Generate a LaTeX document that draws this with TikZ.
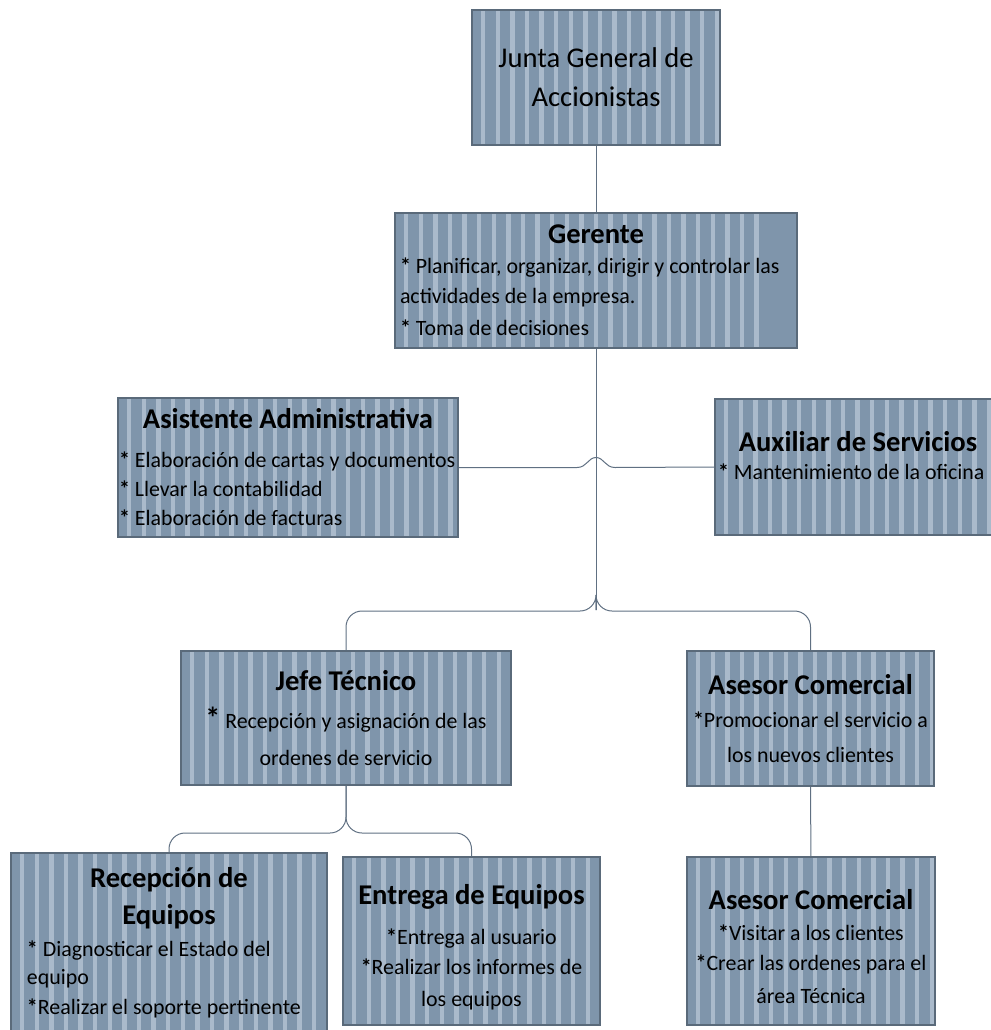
\documentclass[tikz,border=0pt]{standalone}
\usepackage{fontspec}
\setmainfont{Carlito}
\usepackage{tikz}
\usetikzlibrary{calc}

\definecolor{fondo}{RGB}{127,149,171}
\definecolor{franja}{RGB}{170,186,203}
\definecolor{borde}{RGB}{90,106,122}
\definecolor{linea}{RGB}{96,112,130}

\newcommand{\titulo}[1]{{\fontsize{28.6}{34}\selectfont\bfseries #1}}
\newcommand{\vineta}{\textbf{*}}

\tikzset{
  cargo/.style={draw=borde, line width=2.2pt, fill=fondo, inner sep=3pt, align=center,
    font=\fontsize{21.9}{30}\selectfont,
    path picture={\foreach \s in {0,...,24}
      \fill[franja] ($(path picture bounding box.north west)+(9+\s*14.6,0)$) rectangle +(4.4,300);}},
  conector/.style={draw=linea, line width=1pt},
}

\begin{document}
\begin{tikzpicture}[x=1pt,y=-1pt]
\useasboundingbox (0,0) rectangle (990,1030);

\node [cargo, minimum width=248, minimum height=135, font=\fontsize{28.6}{39}\selectfont] (junta) at (596,77.5) {Junta General de\\Accionistas};

\node [cargo, minimum width=402, minimum height=135, align=left] (gerente) at (596,280.5)
  {\makebox[392pt]{\titulo{Gerente}}\\
   \vineta{} Planificar, organizar, dirigir y controlar las\\
   actividades de la empresa.\\[2pt]
   \vineta{} Toma de decisiones};

\node [cargo, minimum width=340, minimum height=139, inner xsep=1pt, align=left] (asistente) at (288,467.5)
  {\makebox[338pt]{\titulo{Asistente Administrativa}}\\[9pt]
   \vineta{} Elaboración de cartas y documentos\\[-1pt]
   \vineta{} Llevar la contabilidad\\[-1pt]
   \vineta{} Elaboración de facturas};

\node [cargo, minimum width=284, minimum height=136, align=left] (auxiliar) at (858,467)
  {\makebox[280pt]{\titulo{Auxiliar de Servicios}}\\[-2pt]
   \vineta{} Mantenimiento de la oficina\rule[-24pt]{0pt}{0pt}};

\node [cargo, minimum width=330, minimum height=134] (jefe) at (346,718)
  {\titulo{Jefe Técnico}\\[8pt]
   {\fontsize{30}{30}\selectfont\bfseries *} Recepción y asignación de las\\[7pt]
   ordenes de servicio};

\node [cargo, minimum width=247, minimum height=135] (asesorA) at (810.5,718.5)
  {\titulo{Asesor Comercial}\\[3pt]
   \vineta{}Promocionar el servicio a\\[5pt]
   los nuevos clientes};

\node [cargo, minimum width=316, minimum height=180, align=left] (recepcion) at (169,943)
  {\makebox[284pt]{\titulo{Recepción de}}\\[7pt]
   \makebox[284pt]{\titulo{Equipos}}\\[2pt]
   \vineta{} Diagnosticar el Estado del\\[-2pt]
   equipo\\
   \vineta{}Realizar el soporte pertinente};

\node [cargo, minimum width=257, minimum height=168] (entrega) at (471.5,941)
  {\rule{0pt}{33pt}\titulo{Entrega de Equipos}\\[10pt]
   \vineta{}Entrega al usuario\\
   \vineta{}Realizar los informes de\\[2pt]
   los equipos};

\node [cargo, minimum width=248, minimum height=168] (asesorB) at (811,941)
  {\rule{0pt}{32pt}\titulo{Asesor Comercial}\\[1pt]
   \vineta{}Visitar a los clientes\\
   \vineta{}Crear las ordenes para el\\[3pt]
   área Técnica};

\coordinate (cruce) at (gerente.south |- asistente.east);
\coordinate (ramaA) at (596,610);
\coordinate (ramaB) at (346,833);

\draw [conector] (junta) -- (gerente);
\draw [conector] (gerente.south) -- (ramaA);
\draw [conector] (asistente.east) -- ([xshift=-19pt]cruce) .. controls +(10,0) and +(-8,0) .. ([yshift=10pt]cruce)
  .. controls +(8,0) and +(-10,0) .. ([xshift=19pt]cruce) -- (auxiliar.west);
\draw [conector, rounded corners=16pt] (gerente.south |- ramaA) -- ([yshift=-1pt]ramaA) -| (jefe.north);
\draw [conector, rounded corners=16pt] (gerente.south |- ramaA) -- ([yshift=-1pt]ramaA) -| (asesorA.north);
\draw [conector, rounded corners=16pt] (jefe.south) -- (ramaB) -| (recepcion.north);
\draw [conector, rounded corners=16pt] (jefe.south) -- (ramaB) -| (entrega.north);
\draw [conector] (asesorA) -- (asesorB);
\end{tikzpicture}
\end{document}
